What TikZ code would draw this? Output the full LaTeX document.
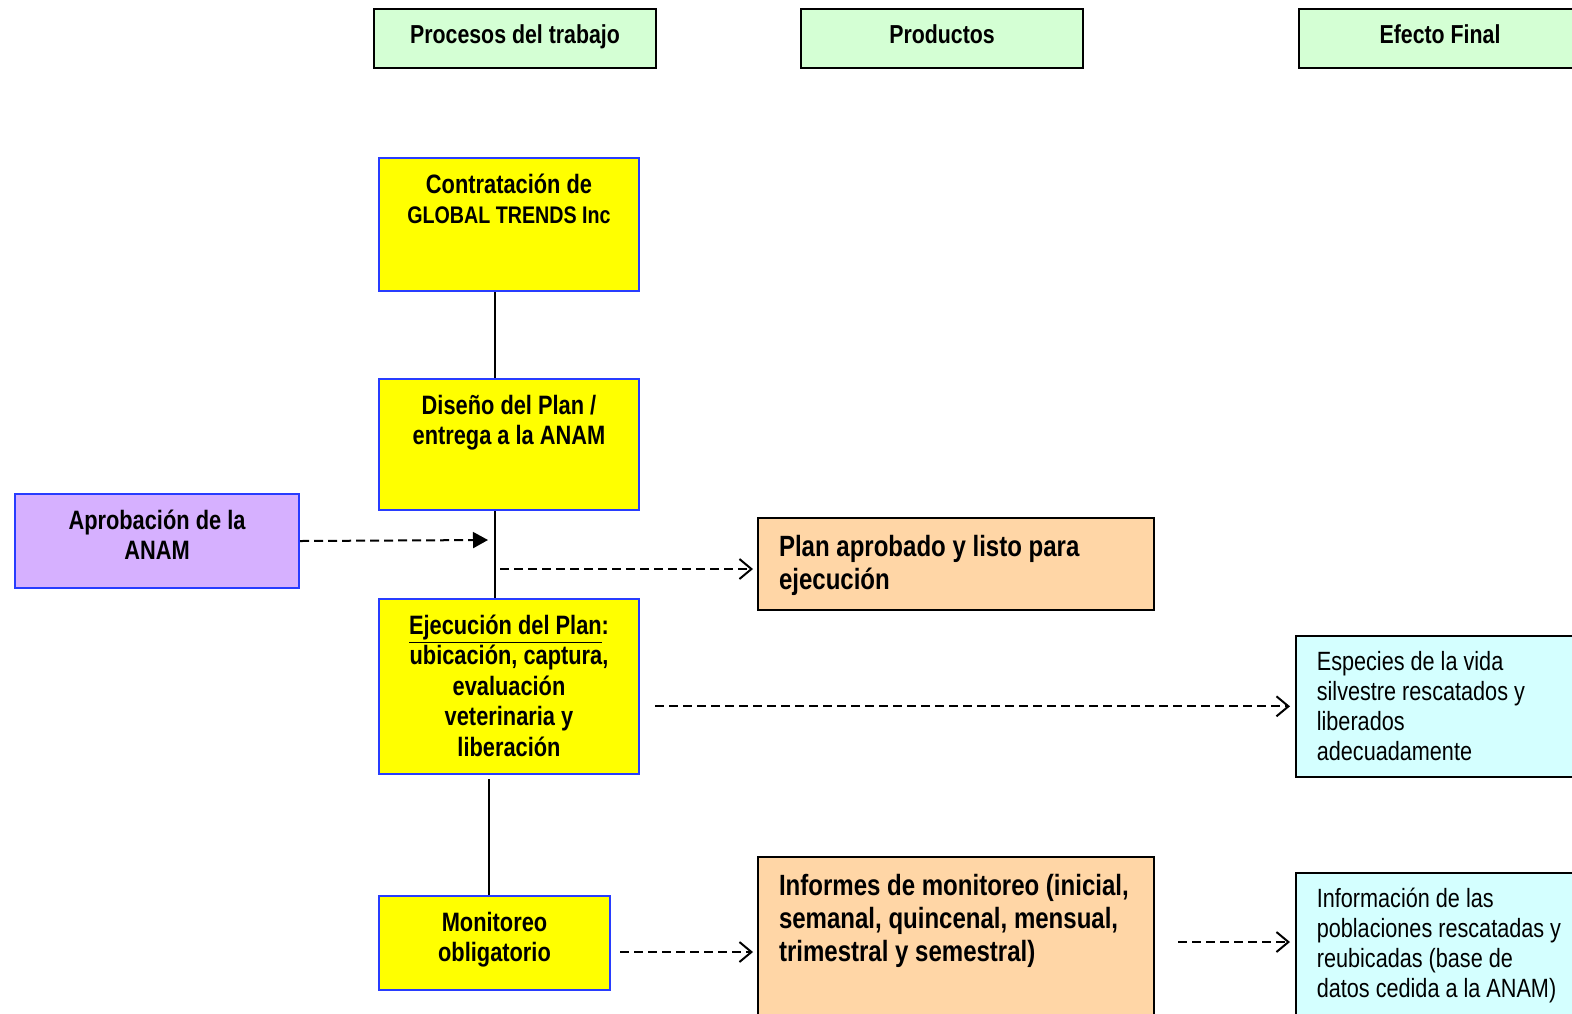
\documentclass[tikz,border=0pt]{standalone}
\usepackage{fontspec}
\setmainfont[FakeStretch=0.82]{Liberation Sans}
\usetikzlibrary{arrows.meta,calc}
\definecolor{headgreen}{RGB}{212,255,212}
\definecolor{procyellow}{RGB}{255,255,0}
\definecolor{procblue}{RGB}{40,60,255}
\definecolor{apprpurple}{RGB}{214,176,255}
\definecolor{prodorange}{RGB}{255,214,166}
\definecolor{effcyan}{RGB}{212,255,255}
\begin{document}
\begin{tikzpicture}[x=0.5pt,y=-0.5pt,
		head/.style={draw,fill=headgreen,line width=1pt,minimum width=141pt,minimum
				height=29.5pt,inner sep=0pt,anchor=north west,text depth=4pt,font=\fontsize{13}{15}\selectfont\bfseries},
		proc/.style={draw=procblue,fill=procyellow,line width=1pt,anchor=north west,inner
				sep=0pt,align=flush center,text height=17.5pt,font=\fontsize{13.3}{15.3}\selectfont\bfseries},
		appr/.style={proc,fill=apprpurple},
		prod/.style={draw,fill=prodorange,line width=1pt,anchor=north west,inner xsep=10.5pt,inner
				ysep=0pt,align=flush left,text width=177pt,text height=19pt,font=\fontsize{14.65}{16.5}\selectfont\bfseries},
		eff/.style={draw,fill=effcyan,line width=0.8pt,anchor=north west,inner xsep=10.5pt,inner
				ysep=0pt,align=flush left,text width=129pt,text height=17.5pt,font=\fontsize{13.2}{15}\selectfont},
		link/.style={line width=1pt},
		flow/.style={line width=1pt,dash pattern=on 4.5pt off 2.5pt,-{Straight Barb[length=6pt,width=10pt]}},
		feed/.style={flow,-{Triangle[length=7.5pt,width=8pt]}}]
	\useasboundingbox (0,0) rectangle (1572,1013);

	% column headings
	\node[head] (hproc) at (373,8) {Procesos del trabajo};
	\node[head] (hprod) at (800,8) {Productos};
	\node[head] (heff) at (1298,8) {Efecto Final};

	% work processes
	\node[proc,text width=130pt,text depth=49pt] (contr) at (378,157)
	{Contratación de\\{\fontsize{12}{14}\selectfont GLOBAL TRENDS Inc}};
	\node[proc,text width=130pt,text depth=48pt] (dis) at (378,378)
	{Diseño del Plan /\\entrega a la ANAM};
	\node[appr,text width=142pt,text depth=29.5pt] (aprob) at (14,493)
	{Aprobación de la\\ANAM};
	\node[proc,text width=130pt,text depth=70pt] (ejec) at (378,598)
	{\underline{Ejecución del Plan}:\\ubicación, captura,\\evaluación\\veterinaria y\\liberación};
	\node[proc,text width=115.5pt,text depth=29.5pt] (mon) at (378,895)
	{Monitoreo\\obligatorio};

	% products
	\node[prod,text depth=27pt] (plan) at (757,517)
	{Plan aprobado y listo para\\ejecución};
	\node[prod,text depth=71pt] (inf) at (757,856)
	{Informes de monitoreo (inicial,\\semanal, quincenal, mensual,\\trimestral y semestral)};

	% final effects
	\node[eff,text depth=53pt] (esp) at (1295,635)
	{Especies de la vida\\silvestre rescatados y\\liberados\\adecuadamente};
	\node[eff,text depth=66.5pt] (info) at (1295,872)
	{Información de las\\poblaciones rescatadas y\\reubicadas (base de\\datos cedida a la ANAM)};

	\coordinate (apin) at (488,540);
	\coordinate (pout) at (500,569);

	\draw[link] ([xshift=-7pt]contr.south) -- ([xshift=-7pt]dis.north);
	\draw[link] ([xshift=-7pt]dis.south) -- ([xshift=-7pt]ejec.north);
	\draw[link] ([xshift=-10pt,yshift=-2pt]ejec.south) -- ([xshift=-2.75pt]mon.north);

	\draw[feed] (aprob.east) -- (apin);
	\draw[flow,shorten >=2pt] (pout) -- (pout -| plan.west);
	\draw[flow,shorten >=2.5pt] ($(ejec.east |- esp.west)+(15,0)$) -- (esp.west);
	\draw[flow,shorten >=2pt] ($(mon.east)+(9,9)$) -- ($(mon.east -| inf.west)+(0,9)$);
	\draw[flow,shorten >=2.5pt] ($(inf.east)+(23,-5)$) -- ($(inf.east -| info.west)+(0,-5)$);
\end{tikzpicture}
\end{document}
